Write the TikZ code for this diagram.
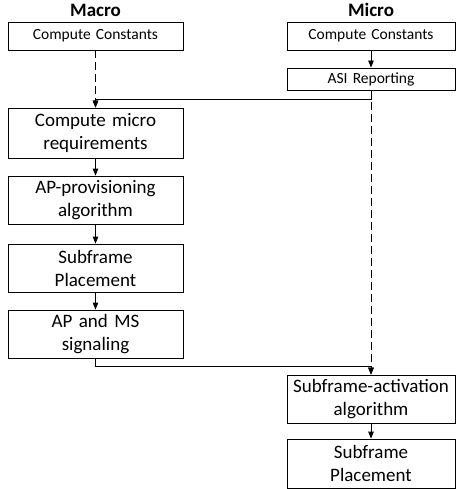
\documentclass[tikz,border=0pt]{standalone}
\usepackage{fontspec}
\setmainfont{Carlito}
\usetikzlibrary{arrows.meta}
\begin{document}
\begin{tikzpicture}[x=1pt,y=-1pt,
  box/.style={draw=black, line width=0.8pt, inner sep=0pt, align=center, font=\fontsize{19}{23}\selectfont},
  mac/.style={box, minimum width=175pt, text width=170pt},
  mic/.style={box, minimum width=168pt, text width=166pt},
  small/.style={font=\fontsize{15.5}{18}\selectfont},
  title/.style={font=\fontsize{19}{23}\selectfont\bfseries, inner sep=0pt},
  arr/.style={line width=0.8pt, -{Triangle[length=7pt,width=5.5pt]}},
  dsh/.style={arr, dash pattern=on 8pt off 4pt}]
\useasboundingbox (0,0) rectangle (456,489);
\node[title] (tmac) at (95.5,10) {Macro};
\node[title] (tmic) at (371,10) {Micro};
\node[mac, small, minimum height=28pt] (MCC) at (95.5,36) {Compute Constants};
\node[mac, minimum height=50pt] (CMR) at (95.5,133) {Compute micro\\requirements};
\node[mac, minimum height=48pt] (APP) at (95.5,200) {AP-provisioning\\algorithm};
\node[mac, minimum height=48pt] (SP) at (95.5,268) {Subframe\\Placement};
\node[mac, minimum height=48pt] (APMS) at (95.5,334) {AP and MS\\signaling};
\node[mic, small, minimum height=28pt] (uCC) at (371,36) {Compute Constants};
\node[mic, small, minimum height=22pt] (ASI) at (371,79) {ASI Reporting};
\node[mic, minimum height=48pt] (SAA) at (371,399) {Subframe-activation\\algorithm};
\node[mic, minimum height=49pt] (uSP) at (371,463.5) {Subframe\\Placement};
\draw[dsh] (MCC.south) -- (CMR.north);
\draw[arr] (uCC.south) -- (ASI.north);
\draw[arr] (ASI.south) -- ++(0,9) -| (CMR.north);
\draw[dsh] (ASI.south) -- (SAA.north);
\draw[arr] (CMR.south) -- (APP.north);
\draw[arr] (APP.south) -- (SP.north);
\draw[arr] (SP.south) -- (APMS.north);
\draw[arr] (APMS.south) -- ++(0,8) -| (SAA.north);
\draw[arr] (SAA.south) -- (uSP.north);
\end{tikzpicture}
\end{document}
